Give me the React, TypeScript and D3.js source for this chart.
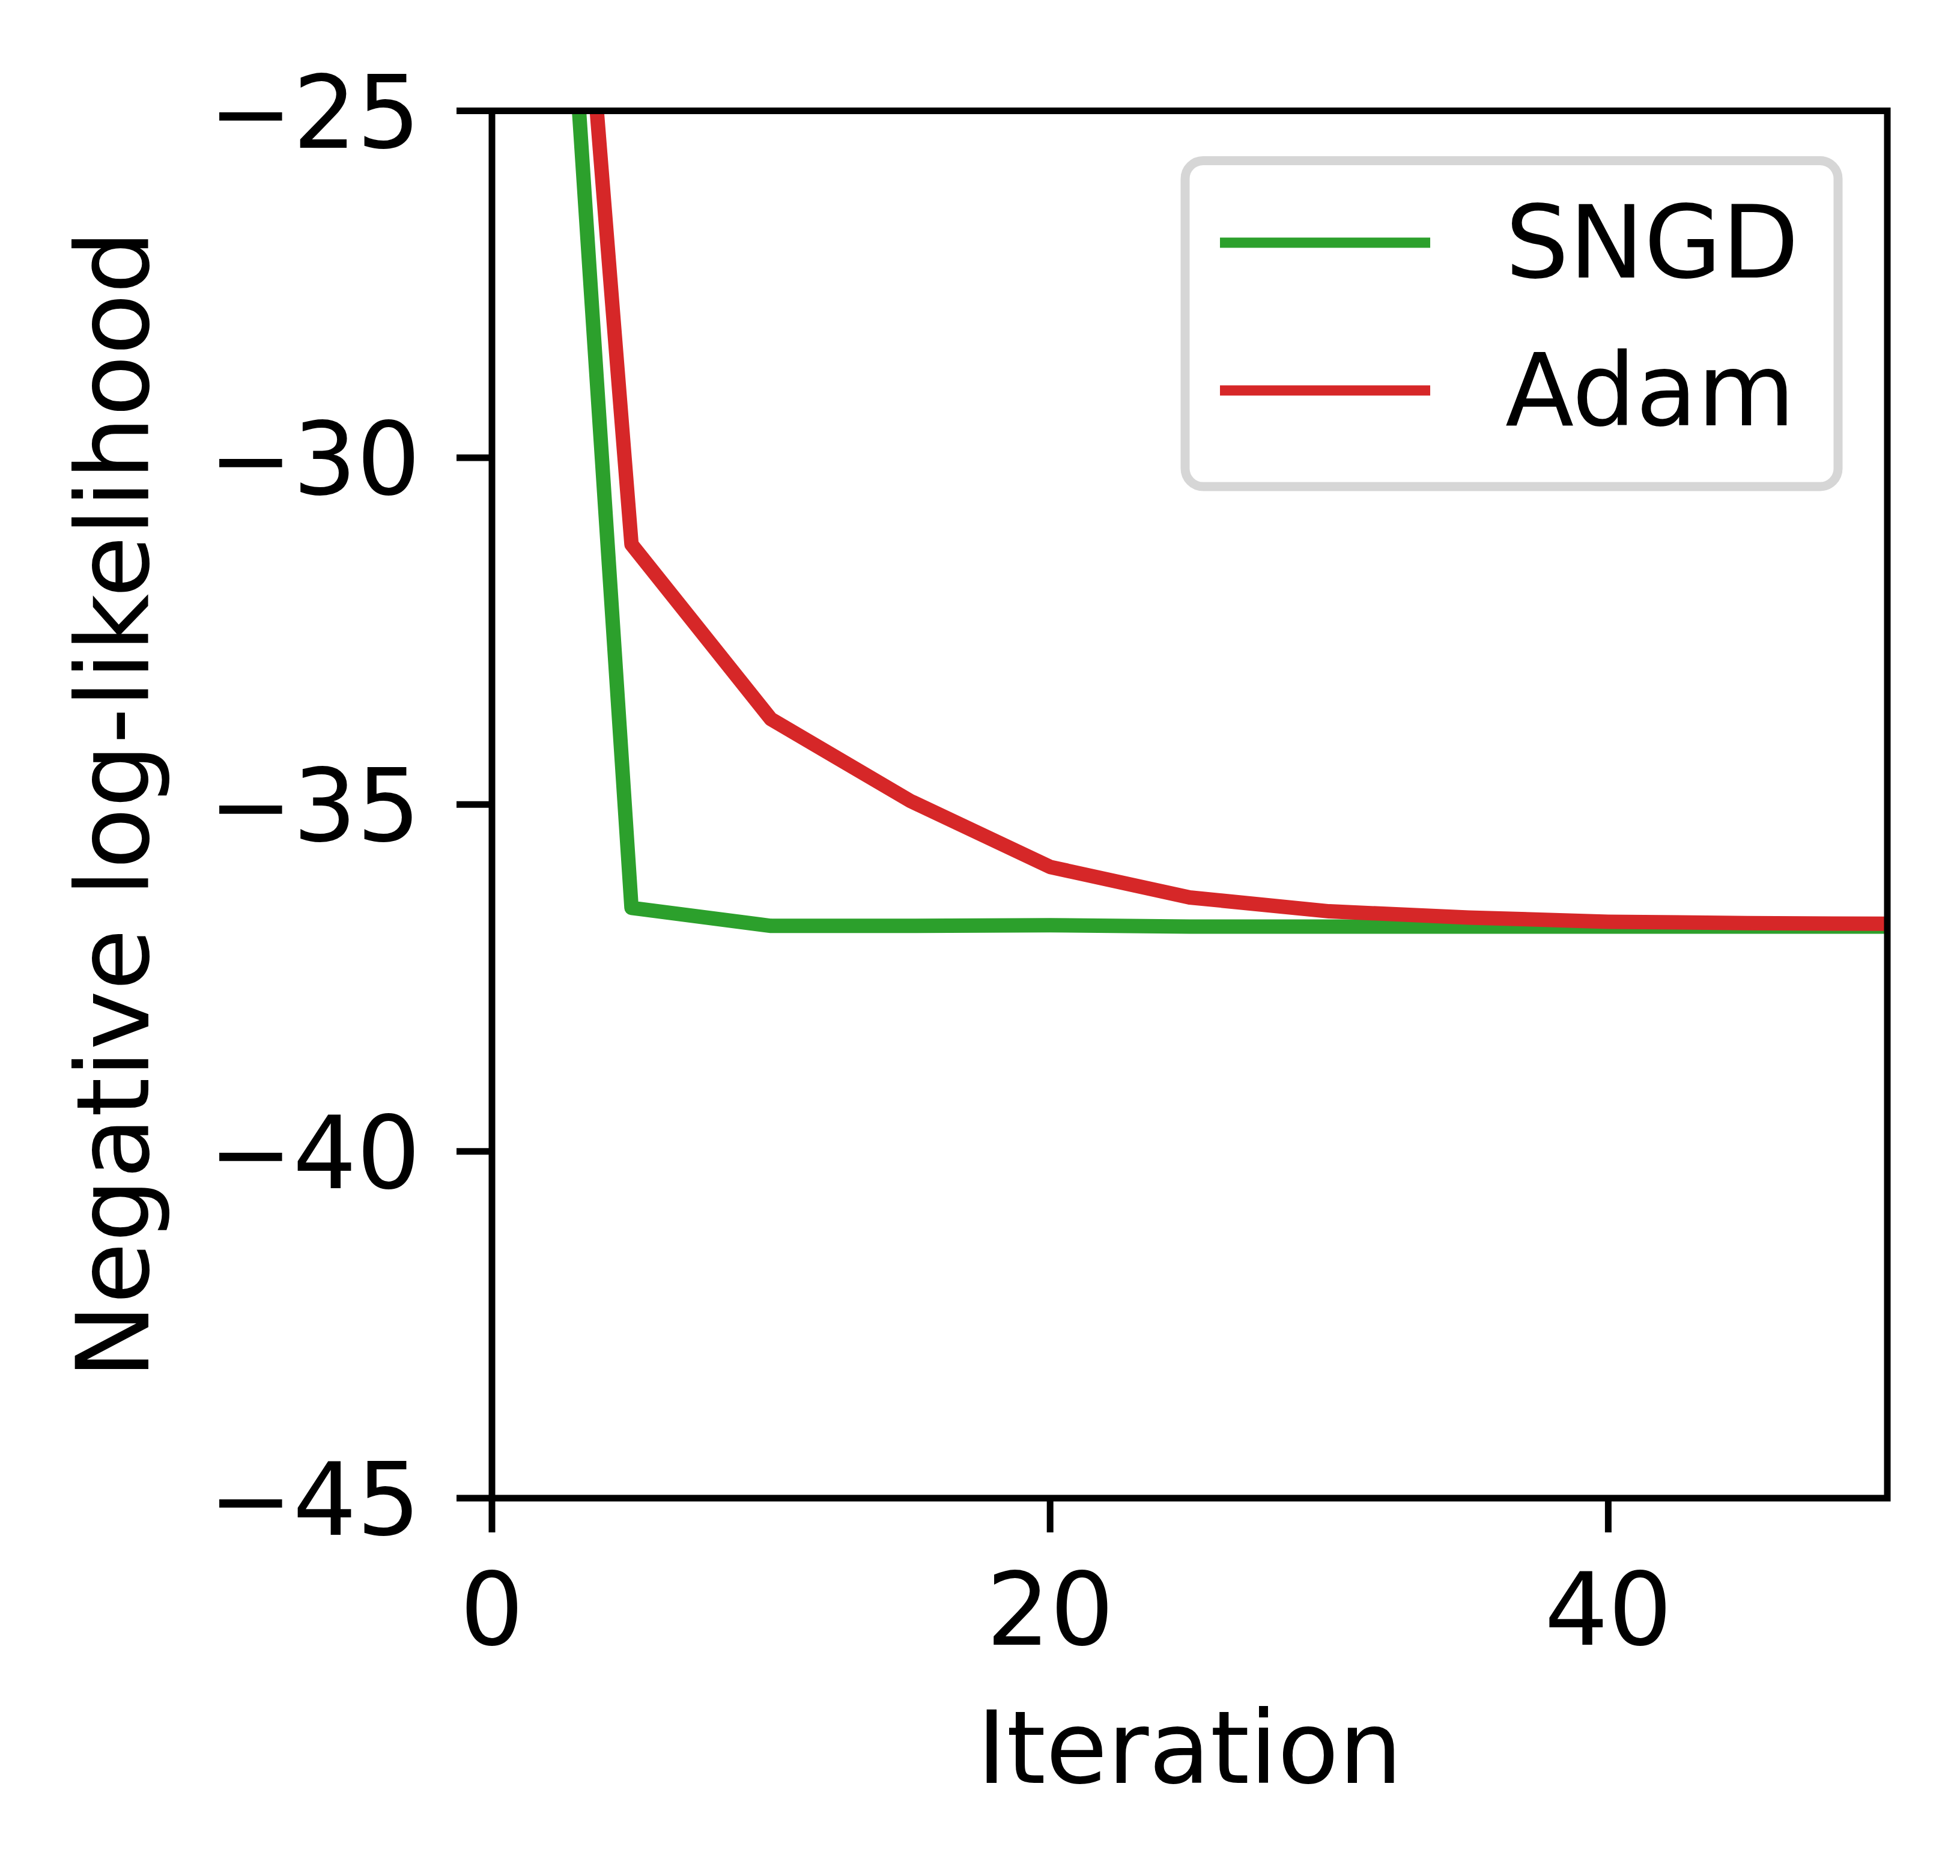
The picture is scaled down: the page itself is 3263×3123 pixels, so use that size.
import { useEffect, useRef } from "react";
import * as d3 from "d3";

const iterations = [0, 5, 10, 15, 20, 25, 30, 35, 40, 45, 50];
const sngdValues = [-5.9, -36.49, -36.75, -36.75, -36.74, -36.76, -36.76, -36.76, -36.76, -36.76, -36.76];
const adamValues = [-6.1, -31.25, -33.77, -34.95, -35.9, -36.34, -36.54, -36.63, -36.69, -36.71, -36.72];
const seriesNames = ["SNGD", "Adam"];
const seriesColors = ["#2ca02c", "#d62728"];
const xTicks = [0, 20, 40];
const yTicks = [-25, -30, -35, -40, -45];

const width = 3263;
const height = 3123;
const fontSize = 167;

const App = () => {
  const svgRef = useRef<SVGSVGElement | null>(null);

  useEffect(() => {
    document.body.style.margin = "0";
    const svg = d3.select(svgRef.current);
    svg.selectAll("*").remove();

    const x = d3.scaleLinear().domain([0, 50]).range([819, 3142]);
    const y = d3.scaleLinear().domain([-45, -25]).range([2494, 184.5]);
    const fmt = (v: number) => (v < 0 ? "\u2212" + Math.abs(v) : String(v));

    svg
      .append("defs")
      .append("clipPath")
      .attr("id", "plot-clip")
      .append("rect")
      .attr("x", x(0))
      .attr("y", y(-25))
      .attr("width", x(50) - x(0))
      .attr("height", y(-45) - y(-25));

    // data lines
    const line = d3
      .line<number>()
      .x((d, i) => x(iterations[i]))
      .y((d) => y(d));

    const lines = svg.append("g").attr("clip-path", "url(#plot-clip)");
    [sngdValues, adamValues].forEach((vals, i) => {
      lines
        .append("path")
        .attr("d", line(vals))
        .attr("fill", "none")
        .attr("stroke", seriesColors[i])
        .attr("stroke-width", 24)
        .attr("stroke-linejoin", "round");
    });

    // ticks
    const tickG = svg.append("g").attr("stroke", "#000").attr("stroke-width", 11);
    xTicks.forEach((t) => {
      tickG.append("line").attr("x1", x(t)).attr("x2", x(t)).attr("y1", y(-45)).attr("y2", y(-45) + 57);
    });
    yTicks.forEach((t) => {
      tickG.append("line").attr("x1", x(0)).attr("x2", x(0) - 59).attr("y1", y(t)).attr("y2", y(t));
    });

    const text = svg
      .append("g")
      .attr("font-family", "'DejaVu Sans', sans-serif")
      .attr("font-size", fontSize)
      .attr("fill", "#000");

    xTicks.forEach((t) => {
      text.append("text").attr("x", x(t)).attr("y", 2738).attr("text-anchor", "middle").text(fmt(t));
    });
    yTicks.forEach((t) => {
      text
        .append("text")
        .attr("x", 700)
        .attr("y", y(t) + 61)
        .attr("text-anchor", "end")
        .text(fmt(t));
    });

    text
      .append("text")
      .attr("x", (x(0) + x(50)) / 2)
      .attr("y", 2968)
      .attr("text-anchor", "middle")
      .text("Iteration");

    text
      .append("text")
      .attr("transform", `translate(247,${(y(-25) + y(-45)) / 2}) rotate(-90)`)
      .attr("text-anchor", "middle")
      .text("Negative log-likelihood");

    // frame
    svg
      .append("rect")
      .attr("x", x(0))
      .attr("y", y(-25))
      .attr("width", x(50) - x(0))
      .attr("height", y(-45) - y(-25))
      .attr("fill", "none")
      .attr("stroke", "#000")
      .attr("stroke-width", 11);

    // legend
    const legend = svg.append("g");
    legend
      .append("rect")
      .attr("x", 1973)
      .attr("y", 267.5)
      .attr("width", 3060 - 1973)
      .attr("height", 810 - 267.5)
      .attr("rx", 30)
      .attr("fill", "#fff")
      .attr("stroke", "#d6d6d6")
      .attr("stroke-width", 15);

    seriesNames.forEach((name, i) => {
      const ly = 404 + i * 246;
      legend
        .append("line")
        .attr("x1", 2031)
        .attr("x2", 2381)
        .attr("y1", ly)
        .attr("y2", ly)
        .attr("stroke", seriesColors[i])
        .attr("stroke-width", 17);
      legend
        .append("text")
        .attr("x", 2506)
        .attr("y", ly + 58)
        .attr("font-family", "'DejaVu Sans', sans-serif")
        .attr("font-size", fontSize)
        .attr("fill", "#000")
        .text(name);
    });
  }, []);

  return <svg ref={svgRef} width={width} height={height} style={{ display: "block", background: "#fff" }} />;
};

export default App;
